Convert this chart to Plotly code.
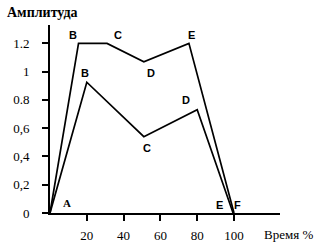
import plotly.graph_objects as go

# Data
upper_x = [0, 15.5, 31, 51, 75.5, 100]
upper_y = [0, 1.2, 1.2, 1.07, 1.2, 0]
lower_x = [0, 20, 51, 80, 99.5]
lower_y = [0, 0.925, 0.54, 0.73, 0]

upper_labels = ["B", "C", "D", "E"]
upper_label_x = [12.5, 37, 55, 77]
upper_label_y = [1.26, 1.26, 0.99, 1.26]
lower_labels = ["A", "B", "C", "D", "E", "F"]
lower_label_x = [9.5, 19, 52.5, 74, 92, 102]
lower_label_y = [0.07, 0.99, 0.46, 0.80, 0.06, 0.06]

x_tickvals = [20, 40, 60, 80, 100]
x_ticktext = ["20", "40", "60", "80", "100"]
y_tickvals = [0, 0.2, 0.4, 0.6, 0.8, 1.0, 1.2]
y_ticktext = ["0", "0,2", "0,4", "0,6", "0.8", "1", "1.2"]

fig = go.Figure()
fig.add_trace(go.Scatter(x=upper_x, y=upper_y, mode="lines",
                         line=dict(color="black", width=1.7), cliponaxis=False))
fig.add_trace(go.Scatter(x=lower_x, y=lower_y, mode="lines",
                         line=dict(color="black", width=1.7), cliponaxis=False))

ann = []
for t, x, y in zip(upper_labels, upper_label_x, upper_label_y):
    ann.append(dict(x=x, y=y, text="<b>" + t + "</b>", showarrow=False, xref="x", yref="y",
                    font=dict(family="Liberation Sans", size=11, color="black")))
for t, x, y in zip(lower_labels, lower_label_x, lower_label_y):
    ann.append(dict(x=x, y=y, text="<b>" + t + "</b>", showarrow=False, xref="x", yref="y",
                    font=dict(family="Liberation Serif" if t == "A" else "Liberation Sans",
                              size=11, color="black")))
ann.append(dict(x=-45 / 230, y=1 + 13 / 188, xref="paper", yref="paper", text="<b>Амплитуда</b>",
                showarrow=False, xanchor="left", yanchor="middle",
                font=dict(family="Liberation Serif", size=14, color="black")))
ann.append(dict(x=(288 - 50) / 230, y=-21 / 188, xref="paper", yref="paper", text="Время %",
                showarrow=False, xanchor="center", yanchor="middle",
                font=dict(family="Liberation Serif", size=13, color="black")))

fig.update_layout(
    width=325, height=246,
    margin=dict(l=50, r=45, t=25, b=33),
    paper_bgcolor="white", plot_bgcolor="white",
    showlegend=False,
    annotations=ann,
    xaxis=dict(range=[0, 125], showgrid=False, zeroline=False, showline=True,
               linecolor="black", linewidth=2, ticks="outside", ticklen=6, tickwidth=2,
               tickcolor="black", tickvals=x_tickvals, ticktext=x_ticktext,
               ticklabelstandoff=3, automargin=False,
               tickfont=dict(family="Liberation Serif", size=13, color="black")),
    yaxis=dict(range=[0, 1.33], showgrid=False, zeroline=False, showline=True,
               linecolor="black", linewidth=2, ticks="outside", ticklen=6, tickwidth=2,
               tickcolor="black", tickvals=y_tickvals, ticktext=y_ticktext,
               ticklabelstandoff=10, automargin=False,
               tickfont=dict(family="Liberation Serif", size=13, color="black")),
)
fig.write_html("out.html")
